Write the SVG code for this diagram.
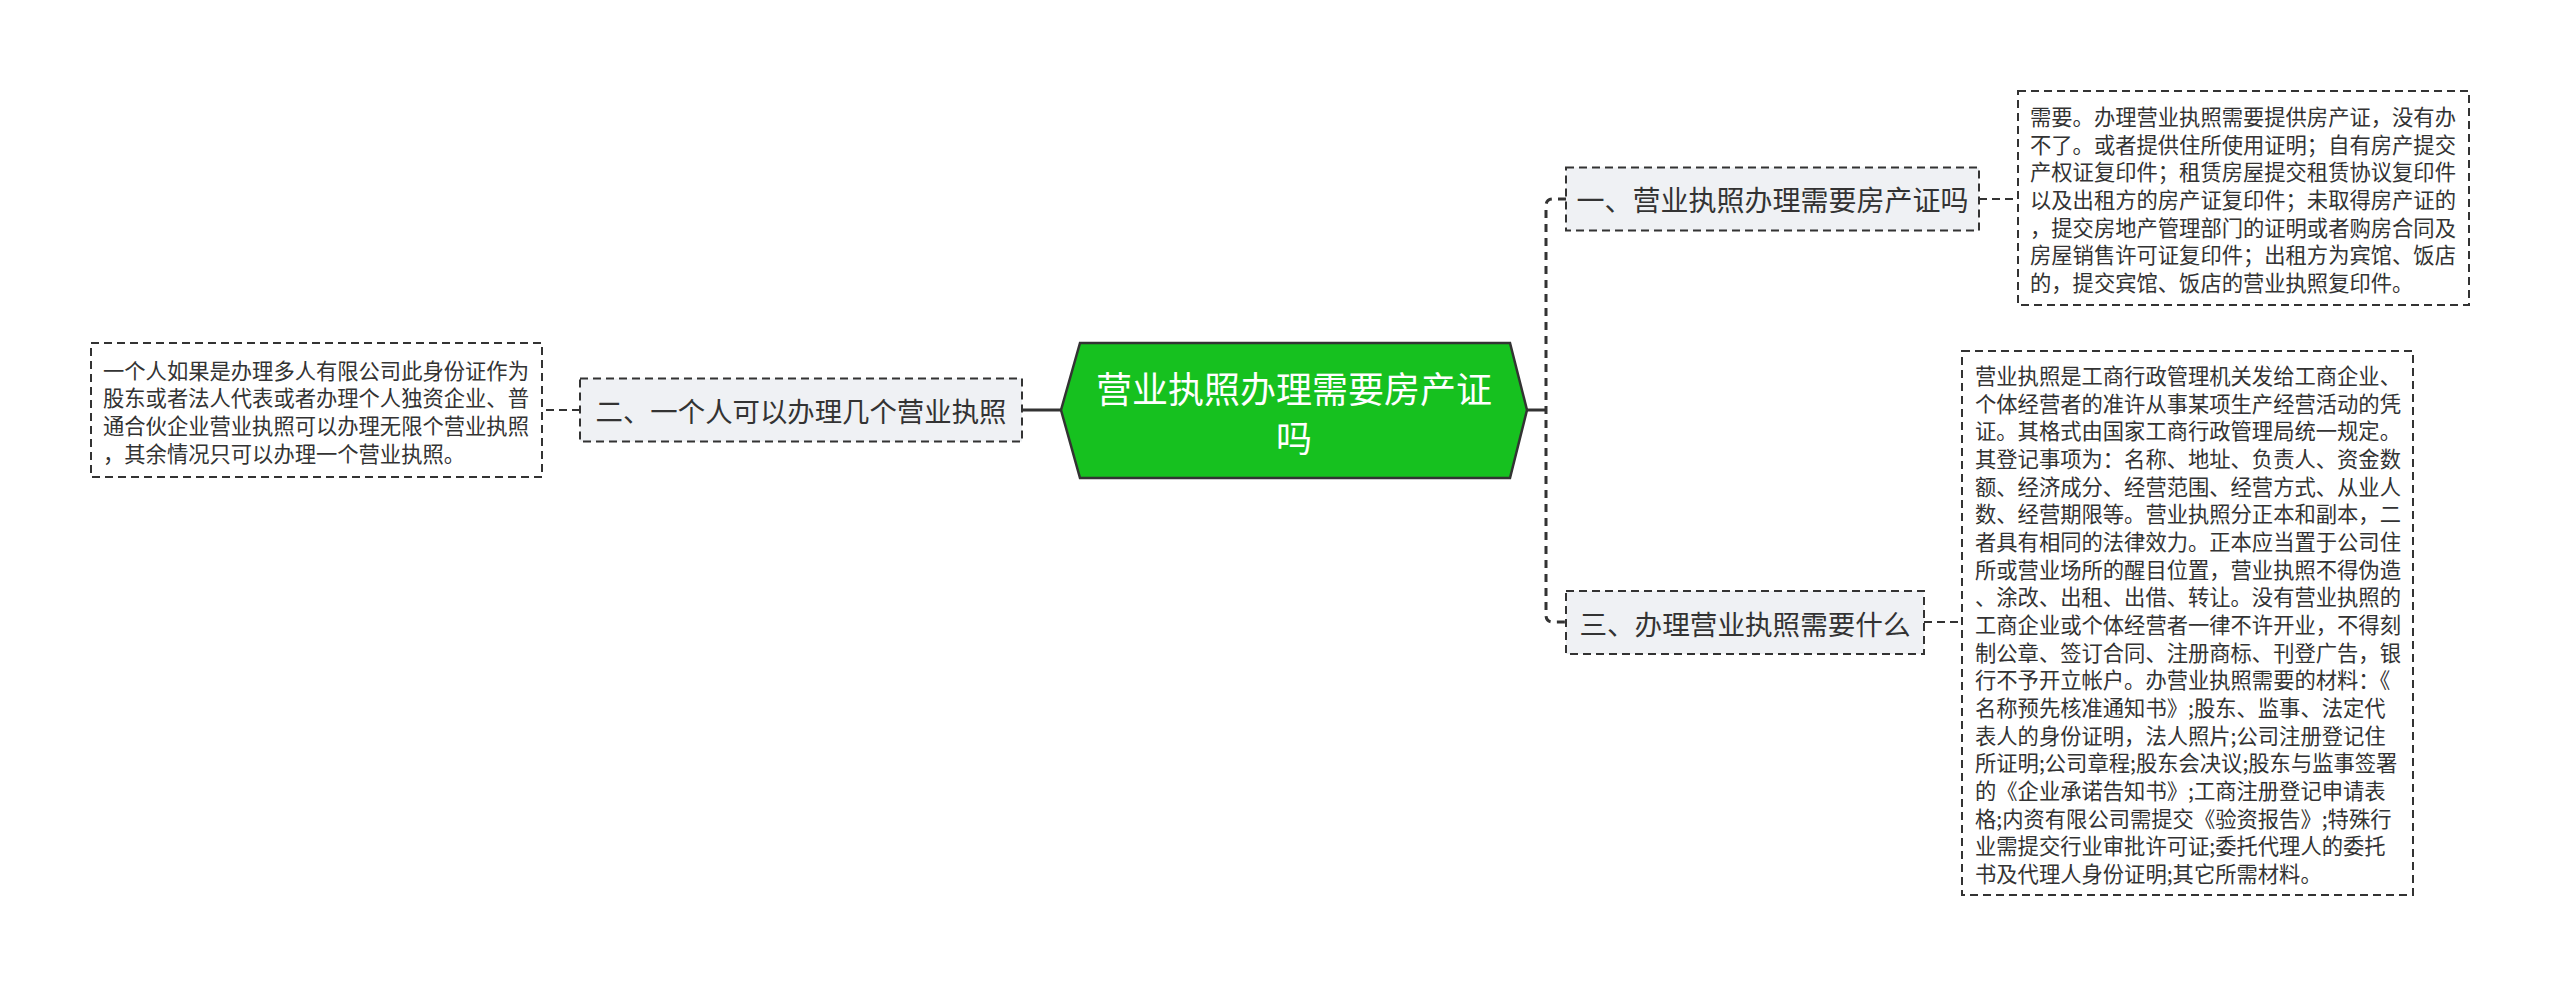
<svg xmlns="http://www.w3.org/2000/svg" width="2560" height="988" viewBox="0 0 2560 988">
<style>
text{font-family:"Noto Sans CJK SC","Noto Sans",sans-serif;fill:#333;dominant-baseline:central}
.topic{fill:#eff1f4;stroke:#333;stroke-width:2;stroke-dasharray:8 5}
.note{fill:#fff;stroke:#333;stroke-width:2;stroke-dasharray:8 5}
.conn{fill:none;stroke:#333;stroke-width:3}
.dconn{fill:none;stroke:#333;stroke-width:3;stroke-dasharray:8 6}
.tconn{fill:none;stroke:#333;stroke-width:2;stroke-dasharray:8 5}
.small{font-size:21.3px}
</style>
<rect width="2560" height="988" fill="#fff"/>
<g id="connectors">
<line class="conn" x1="1061" y1="410" x2="1022" y2="410"/>
<line class="tconn" x1="580" y1="410" x2="542" y2="410"/>
<line class="conn" x1="1527" y1="410" x2="1547" y2="410"/>
<path class="dconn" d="M1566,199 H1553 Q1546,199 1546,206 V615 Q1546,622 1553,622 H1566"/>
<line class="tconn" x1="1979" y1="199" x2="2018" y2="199"/>
<line class="tconn" x1="1924" y1="622" x2="1962" y2="622"/>
</g>
<g id="center">
<polygon points="1061,410 1080,343 1510,343 1527,410 1510,478 1080,478" fill="#16c11f" stroke="#333" stroke-width="2.5"/>
<text x="1294" y="387" font-size="36" text-anchor="middle" style="fill:#fff">营业执照办理需要房产证</text>
<text x="1294" y="436" font-size="36" text-anchor="middle" style="fill:#fff">吗</text>
</g>
<g id="topic1">
<rect class="topic" x="1566" y="167.5" width="413" height="63"/>
<text x="1772.5" y="199" font-size="28" text-anchor="middle">一、营业执照办理需要房产证吗</text>
</g>
<g id="topic2">
<rect class="topic" x="580" y="378.5" width="442" height="63"/>
<text x="801" y="410" font-size="27.4" text-anchor="middle">二、一个人可以办理几个营业执照</text>
</g>
<g id="topic3">
<rect class="topic" x="1566" y="591" width="358" height="63"/>
<text x="1745" y="622.5" font-size="27.6" text-anchor="middle">三、办理营业执照需要什么</text>
</g>
<g id="note1">
<rect class="note" x="2018" y="91" width="451" height="214"/>
<text class="small">
<tspan x="2030" y="115">需要。办理营业执照需要提供房产证，没有办</tspan>
<tspan x="2030" y="142.67">不了。或者提供住所使用证明；自有房产提交</tspan>
<tspan x="2030" y="170.33">产权证复印件；租赁房屋提交租赁协议复印件</tspan>
<tspan x="2030" y="198">以及出租方的房产证复印件；未取得房产证的</tspan>
<tspan x="2030" y="225.67">，提交房地产管理部门的证明或者购房合同及</tspan>
<tspan x="2030" y="253.33">房屋销售许可证复印件；出租方为宾馆、饭店</tspan>
<tspan x="2030" y="281">的，提交宾馆、饭店的营业执照复印件。</tspan>
</text>
</g>
<g id="note2">
<rect class="note" x="91" y="343" width="451" height="134"/>
<text class="small">
<tspan x="103" y="368.5">一个人如果是办理多人有限公司此身份证作为</tspan>
<tspan x="103" y="396.17">股东或者法人代表或者办理个人独资企业、普</tspan>
<tspan x="103" y="423.83">通合伙企业营业执照可以办理无限个营业执照</tspan>
<tspan x="103" y="451.5">，其余情况只可以办理一个营业执照。</tspan>
</text>
</g>
<g id="note3">
<rect class="note" x="1962" y="351" width="451" height="544"/>
<text class="small">
<tspan x="1975" y="374">营业执照是工商行政管理机关发给工商企业、</tspan>
<tspan x="1975" y="401.67">个体经营者的准许从事某项生产经营活动的凭</tspan>
<tspan x="1975" y="429.33">证。其格式由国家工商行政管理局统一规定。</tspan>
<tspan x="1975" y="457">其登记事项为：名称、地址、负责人、资金数</tspan>
<tspan x="1975" y="484.67">额、经济成分、经营范围、经营方式、从业人</tspan>
<tspan x="1975" y="512.33">数、经营期限等。营业执照分正本和副本，二</tspan>
<tspan x="1975" y="540">者具有相同的法律效力。正本应当置于公司住</tspan>
<tspan x="1975" y="567.67">所或营业场所的醒目位置，营业执照不得伪造</tspan>
<tspan x="1975" y="595.33">、涂改、出租、出借、转让。没有营业执照的</tspan>
<tspan x="1975" y="623">工商企业或个体经营者一律不许开业，不得刻</tspan>
<tspan x="1975" y="650.67">制公章、签订合同、注册商标、刊登广告，银</tspan>
<tspan x="1975" y="678.33">行不予开立帐户。办营业执照需要的材料：《</tspan>
<tspan x="1975" y="706">名称预先核准通知书》;股东、监事、法定代</tspan>
<tspan x="1975" y="733.67">表人的身份证明，法人照片;公司注册登记住</tspan>
<tspan x="1975" y="761.33">所证明;公司章程;股东会决议;股东与监事签署</tspan>
<tspan x="1975" y="789">的《企业承诺告知书》;工商注册登记申请表</tspan>
<tspan x="1975" y="816.67">格;内资有限公司需提交《验资报告》;特殊行</tspan>
<tspan x="1975" y="844.33">业需提交行业审批许可证;委托代理人的委托</tspan>
<tspan x="1975" y="872">书及代理人身份证明;其它所需材料。</tspan>
</text>
</g>
</svg>
